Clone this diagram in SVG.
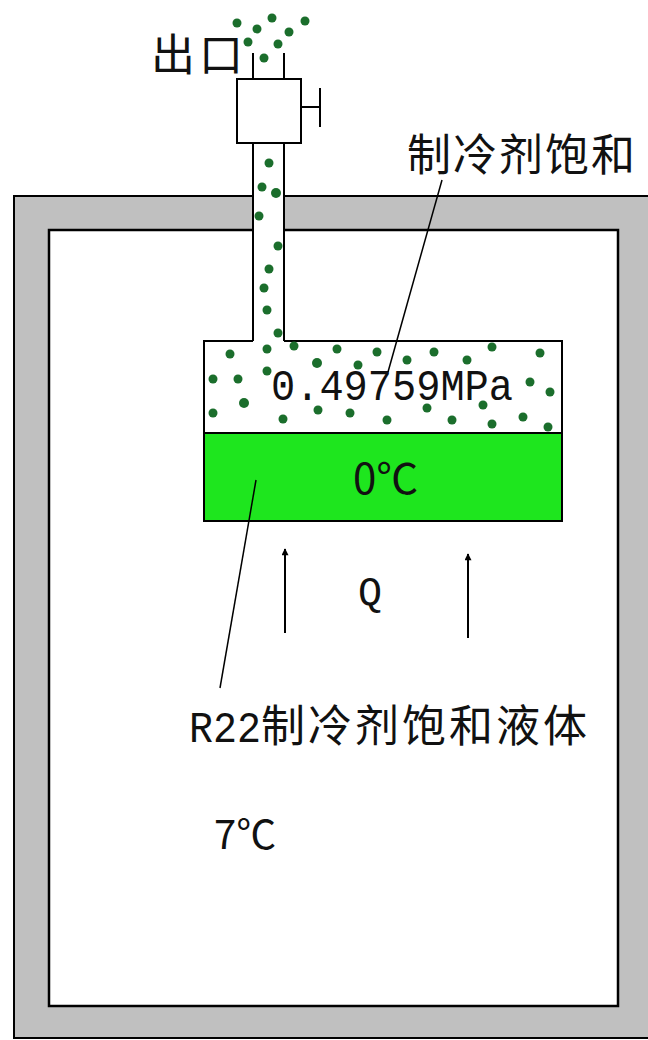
<svg xmlns="http://www.w3.org/2000/svg" width="648" height="1040" viewBox="0 0 648 1040">
  <style>
    .ln { stroke: #000; stroke-width: 2; fill: none; }
    .cjk { font-family: "Noto Sans CJK SC", sans-serif; fill: #111; }
    .mono { font-family: "Liberation Mono", monospace; fill: #111; }
    .dot { fill: #1b6e2c; }
  </style>
  <defs>
    <!-- small filled arrowhead pointing along the line direction -->
    <marker id="arrowHead" viewBox="0 0 10 10" refX="9" refY="5" markerWidth="11" markerHeight="7" orient="auto" markerUnits="userSpaceOnUse">
      <path d="M0,0 L10,5 L0,10 Z" fill="#000"/>
    </marker>
  </defs>

  <rect width="648" height="1040" fill="#fff"/>

  <!-- insulated cold-room wall -->
  <g id="wall">
    <rect x="14" y="196" width="650" height="842" fill="#c0c0c0" stroke="#000" stroke-width="2"/>
    <rect x="49" y="230" width="569" height="776" fill="#fff" stroke="#000" stroke-width="2.5"/>
  </g>

  <!-- vapour pipe through the wall -->
  <g id="pipe">
    <rect x="253" y="142" width="31" height="200" fill="#fff"/>
    <line class="ln" x1="253" y1="142" x2="253" y2="341"/>
    <line class="ln" x1="284" y1="142" x2="284" y2="341"/>
  </g>

  <!-- outlet valve -->
  <g id="valve">
    <line class="ln" x1="253" y1="53" x2="253" y2="79"/>
    <line class="ln" x1="284" y1="53" x2="284" y2="79"/>
    <rect x="237" y="79" width="64" height="64" fill="#fff" stroke="#000" stroke-width="2"/>
    <line class="ln" x1="301" y1="107" x2="320" y2="107"/>
    <line class="ln" x1="320" y1="88" x2="320" y2="127"/>
    <text class="cjk" x="151" y="71" font-size="44" letter-spacing="4">出口</text>
  </g>

  <!-- evaporator vessel -->
  <g id="vessel">
    <rect x="204" y="433" width="358" height="88" fill="#1ee61e"/>
    <line class="ln" x1="204" y1="341" x2="204" y2="521"/>
    <line class="ln" x1="562" y1="341" x2="562" y2="521"/>
    <line class="ln" x1="203" y1="341" x2="253" y2="341"/>
    <line class="ln" x1="284" y1="341" x2="563" y2="341"/>
    <line class="ln" x1="204" y1="433" x2="562" y2="433"/>
    <line class="ln" x1="203" y1="521" x2="563" y2="521"/>
    <text class="mono" x="271" y="400" font-size="44" textLength="242" lengthAdjust="spacingAndGlyphs">0.49759MPa</text>
    <text class="cjk" x="353" y="494" font-size="42">0℃</text>
  </g>

  <!-- vapour bubbles -->
  <g id="vapour">
    <circle class="dot" cx="237" cy="23" r="4.5"/>
    <circle class="dot" cx="257" cy="29" r="4.5"/>
    <circle class="dot" cx="272" cy="18" r="4.5"/>
    <circle class="dot" cx="289" cy="32" r="4.5"/>
    <circle class="dot" cx="305" cy="21" r="4.5"/>
    <circle class="dot" cx="248" cy="42" r="4.5"/>
    <circle class="dot" cx="278" cy="44" r="4.5"/>
    <circle class="dot" cx="264" cy="58" r="4.5"/>

    <circle class="dot" cx="269" cy="163" r="4.5"/>
    <circle class="dot" cx="262" cy="187" r="4.5"/>
    <circle class="dot" cx="276" cy="193" r="5"/>
    <circle class="dot" cx="259" cy="216" r="4.5"/>
    <circle class="dot" cx="278" cy="246" r="4.5"/>
    <circle class="dot" cx="269" cy="269" r="4.5"/>
    <circle class="dot" cx="264" cy="288" r="4.5"/>
    <circle class="dot" cx="267" cy="310" r="4.5"/>
    <circle class="dot" cx="278" cy="333" r="4.5"/>

    <circle class="dot" cx="294" cy="346" r="4.5"/>
    <circle class="dot" cx="267" cy="349" r="4.5"/>
    <circle class="dot" cx="230" cy="354" r="4.5"/>
    <circle class="dot" cx="337" cy="349" r="4.5"/>
    <circle class="dot" cx="317" cy="363" r="5"/>
    <circle class="dot" cx="358" cy="365" r="4.5"/>
    <circle class="dot" cx="267" cy="371" r="4.5"/>
    <circle class="dot" cx="213" cy="379" r="4.5"/>
    <circle class="dot" cx="238" cy="379" r="4.5"/>
    <circle class="dot" cx="244" cy="403" r="5"/>
    <circle class="dot" cx="213" cy="413" r="4.5"/>
    <circle class="dot" cx="283" cy="419" r="4.5"/>
    <circle class="dot" cx="318" cy="410" r="4.5"/>
    <circle class="dot" cx="350" cy="413" r="4.5"/>
    <circle class="dot" cx="377" cy="352" r="4.5"/>
    <circle class="dot" cx="407" cy="360" r="4.5"/>
    <circle class="dot" cx="434" cy="352" r="4.5"/>
    <circle class="dot" cx="467" cy="360" r="4.5"/>
    <circle class="dot" cx="492" cy="347" r="4.5"/>
    <circle class="dot" cx="540" cy="353" r="4.5"/>
    <circle class="dot" cx="530" cy="382" r="4.5"/>
    <circle class="dot" cx="550" cy="392" r="4.5"/>
    <circle class="dot" cx="483" cy="405" r="4.5"/>
    <circle class="dot" cx="427" cy="408" r="4.5"/>
    <circle class="dot" cx="387" cy="420" r="4.5"/>
    <circle class="dot" cx="452" cy="420" r="4.5"/>
    <circle class="dot" cx="492" cy="424" r="4.5"/>
    <circle class="dot" cx="523" cy="417" r="4.5"/>
    <circle class="dot" cx="548" cy="427" r="4.5"/>
  </g>

  <!-- leader lines and heat-flow arrows -->
  <g id="connectors">
    <line x1="442" y1="180" x2="388" y2="372" stroke="#000" stroke-width="1.5"/>
    <line x1="256" y1="480" x2="220" y2="688" stroke="#000" stroke-width="1.5"/>
    <line x1="285" y1="633" x2="285" y2="549" stroke="#000" stroke-width="2" marker-end="url(#arrowHead)"/>
    <line x1="468" y1="638" x2="468" y2="554" stroke="#000" stroke-width="2" marker-end="url(#arrowHead)"/>
  </g>

  <g id="vapour-label">
    <text class="cjk" x="407" y="171" font-size="44" letter-spacing="2">制冷剂饱和</text>
  </g>

  <g id="heat-label">
    <text class="mono" x="358" y="605" font-size="40">Q</text>
  </g>

  <g id="liquid-label">
    <text x="189" y="742"><tspan class="mono" font-size="44" textLength="72" lengthAdjust="spacingAndGlyphs">R22</tspan><tspan class="cjk" font-size="44" letter-spacing="3">制冷剂饱和液体</tspan></text>
  </g>

  <g id="room-temp">
    <text class="cjk" x="214" y="849" font-size="40">7℃</text>
  </g>
</svg>
